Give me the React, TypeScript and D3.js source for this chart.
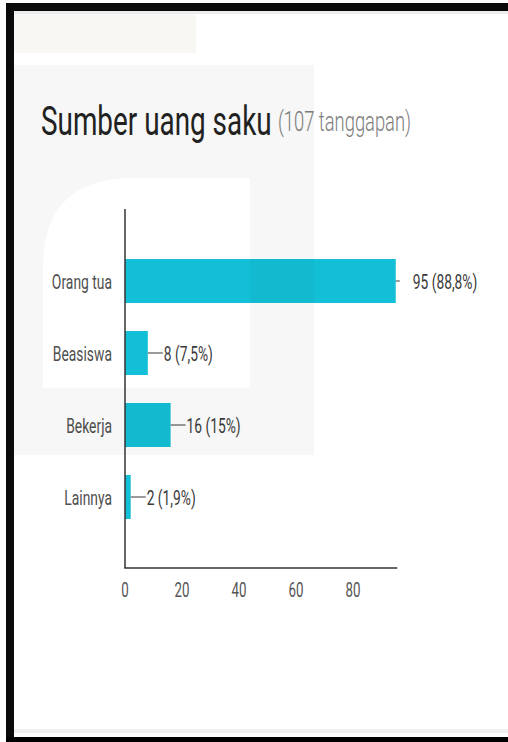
import React from "react";
import * as d3 from "d3";

const categories = ["Orang tua", "Beasiswa", "Bekerja", "Lainnya"];
const counts = [95, 8, 16, 2];
const percentLabels = ["88,8%", "7,5%", "15%", "1,9%"];
const xTicks = [0, 20, 40, 60, 80];
const titleText = "Sumber uang saku";
const subtitleText = "(107 tanggapan)";

const W = 508;
const H = 742;
const SX = 0.68;
const FONT = "Roboto, 'Noto Sans', sans-serif";

export default function App() {
  const x = d3.scaleLinear().domain([0, 95]).range([125, 395.75]);
  const y = d3
    .scaleBand<string>()
    .domain(categories)
    .range([245, 533])
    .paddingInner(0.389)
    .paddingOuter(0.1945);
  const axisTop = 209;
  const axisBottom = 568;
  const maxV = d3.max(counts) as number;

  const sx = (tx: number, ty: number) => `translate(${tx},${ty}) scale(${SX},1)`;

  const watermark =
    "M14,65 H314 V455 H14 Z " +
    "M43,388 V268 Q43,178 133,178 H250 V388 Z";

  return (
    <svg
      width={W}
      height={H}
      style={{ position: "absolute", left: 0, top: 0, background: "#fff" }}
      fontFamily={FONT}
    >
      <rect x={0} y={0} width={W} height={H} fill="#fdfdfd" />
      <rect x={14} y={11} width={494} height={726} fill="#ffffff" />
      <rect x={14} y={11} width={182} height={42} fill="#f9f7f4" />
      {/* title */}
      <text transform={sx(41, 135)} fontSize={41} fill="#212121">
        {titleText}
      </text>
      <text transform={sx(278, 131)} fontSize={27} fill="#7d7d7d" fontWeight={300}>
        {subtitleText}
      </text>
      {/* bars */}
      {categories.map((c, i) => {
        const y0 = y(c) as number;
        const bw = y.bandwidth();
        const cy = y0 + bw / 2;
        const x1 = x(counts[i]);
        const isMax = counts[i] === maxV;
        const lineLen = isMax ? 4 : 15;
        const labelX = x1 + (isMax ? 17 : 16);
        return (
          <g key={c}>
            <rect x={x(0)} y={y0} width={x1 - x(0)} height={bw} fill="#13bfd7" />
            <line x1={x1} x2={x1 + lineLen} y1={cy} y2={cy} stroke="#7a7a7a" strokeWidth={1.5} />
            <text transform={sx(labelX, cy + 7.5)} fontSize={20.3} fill="#3a3a3a">
              {`${counts[i]} (${percentLabels[i]})`}
            </text>
            <text
              transform={sx(112, cy + 7.5)}
              fontSize={20.4}
              fill="#4f4f4f"
              textAnchor="end"
            >
              {c}
            </text>
          </g>
        );
      })}
      {/* axes */}
      <line x1={x(0)} x2={x(0)} y1={axisTop} y2={axisBottom} stroke="#333" strokeWidth={1.5} />
      <line x1={x(0) - 0.75} x2={x(95) + 1.5} y1={axisBottom} y2={axisBottom} stroke="#333" strokeWidth={1.5} />
      {xTicks.map((t) => (
        <text
          key={t}
          transform={sx(x(t), 597)}
          fontSize={19.6}
          fill="#555"
          textAnchor="middle"
        >
          {t}
        </text>
      ))}
      {/* watermark overlay */}
      <path d={watermark} fill="#10301f" fillOpacity={0.04} fillRule="evenodd" />
      {/* frame */}
      <rect x={14} y={11} width={494} height={3} fill="#ececec" />
      <rect x={14} y={729} width={494} height={4} fill="#f0f0f0" />
      <rect x={6} y={3} width={502} height={8} fill="#0a0a0a" />
      <rect x={6} y={3} width={8} height={734} fill="#0a0a0a" />
      <rect x={6} y={737} width={502} height={5} fill="#000" />
    </svg>
  );
}
